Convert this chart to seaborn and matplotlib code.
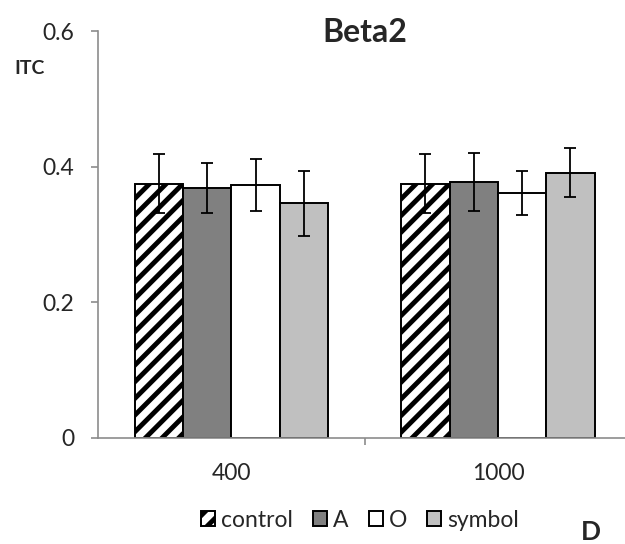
import numpy as np
import pandas as pd
import matplotlib
matplotlib.use("Agg")
import matplotlib.pyplot as plt
import seaborn as sns

# data
frequencies = ["400", "1000"]
conditions = ["control", "A", "O", "symbol"]
itc_400 = [0.375, 0.368, 0.373, 0.346]
itc_1000 = [0.375, 0.377, 0.361, 0.391]
err_400 = [0.044, 0.037, 0.038, 0.048]
err_1000 = [0.044, 0.043, 0.032, 0.036]

colors = ["white", "#808080", "white", "#c0c0c0"]

sns.set_theme(style="white")
plt.rcParams["font.family"] = ["Lato", "DejaVu Sans"]
plt.rcParams["hatch.linewidth"] = 3.5

rows = []
for f, vals, errs in [("400", itc_400, err_400), ("1000", itc_1000, err_1000)]:
    for c, v, e in zip(conditions, vals, errs):
        rows.append({"freq": f, "cond": c, "itc": v, "err": e})
df = pd.DataFrame(rows)

fig = plt.figure(figsize=(6.25, 5.44), dpi=100)
ax = fig.add_axes([0.157, 0.195, 0.853, 0.748])

sns.barplot(data=df, x="freq", y="itc", hue="cond", order=frequencies,
            hue_order=conditions, palette=colors, errorbar=None,
            width=0.725, edgecolor="black", linewidth=1.4, ax=ax,
            legend=False, saturation=1)

bar_containers = list(ax.containers)

# hatch the control bars and add error bars
for ci, cont in enumerate(bar_containers):
    cond = conditions[ci]
    sub = df[df["cond"] == cond].set_index("freq").loc[frequencies]
    for bar, (_, r) in zip(cont.patches, sub.iterrows()):
        if cond == "control":
            bar.set_hatch("//")
        cx = bar.get_x() + bar.get_width() / 2
        ax.errorbar(cx, r["itc"], yerr=r["err"], fmt="none", ecolor="black",
                    elinewidth=1.3, capsize=4, capthick=1.3, zorder=5)

ax.set_ylim(0, 0.6)
ax.set_yticks([0, 0.2, 0.4, 0.6])
ax.set_yticklabels(["0", "0.2", "0.4", "0.6"])
ax.set_xlim(-0.5, 1.5)
ax.set_xlabel("")
ax.set_ylabel("")

for s in ["top", "right"]:
    ax.spines[s].set_visible(False)
for s in ["left", "bottom"]:
    ax.spines[s].set_color("#8c8c8c")
    ax.spines[s].set_linewidth(1.2)

ax.tick_params(axis="y", which="major", left=True, length=5, width=1.2,
               color="#8c8c8c", labelsize=16.5, pad=12)
ax.tick_params(axis="x", which="major", bottom=False, length=0,
               labelsize=16.5, pad=18)
ax.set_xticks([0.5], minor=True)
ax.tick_params(axis="x", which="minor", bottom=True, length=5, width=1.2,
               color="#8c8c8c")

ax.set_title("Beta2", fontsize=23, fontweight="bold", pad=-8)
fig.text(0.047, 0.875, "ITC", fontsize=14, fontweight="bold", ha="center", va="center")
fig.text(0.946, 0.022, "D", fontsize=19, fontweight="bold", ha="center", va="center")

handles = [cont.patches[0] for cont in bar_containers]
fig.legend(handles, conditions, loc="center", bbox_to_anchor=(0.576, 0.044),
           ncol=4, frameon=False, fontsize=16.5, handlelength=0.6,
           handleheight=0.6, handletextpad=0.25, columnspacing=0.9,
           borderpad=0)

fig.savefig("out.png", dpi=100)
